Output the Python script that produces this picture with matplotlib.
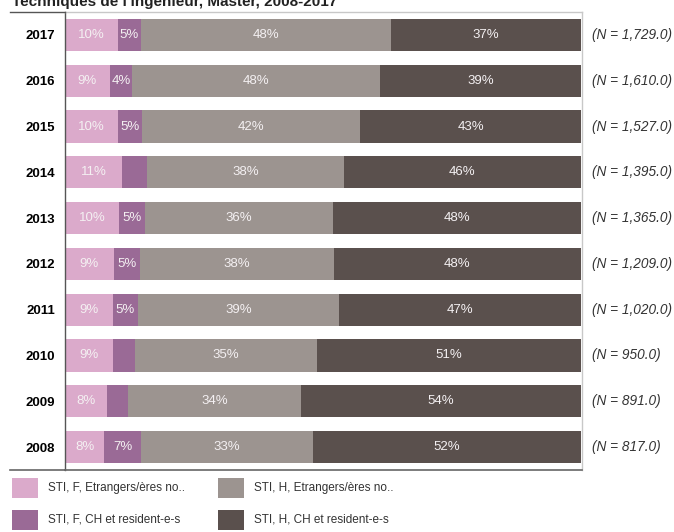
import matplotlib
matplotlib.use("Agg")
import matplotlib.pyplot as plt
from matplotlib.patches import Rectangle
from matplotlib.transforms import blended_transform_factory

plt.rcParams['font.family'] = ['Liberation Sans', 'DejaVu Sans']

# data (share in %)
years = [2017, 2016, 2015, 2014, 2013, 2012, 2011, 2010, 2009, 2008]
counts = [1729.0, 1610.0, 1527.0, 1395.0, 1365.0, 1209.0, 1020.0, 950.0, 891.0, 817.0]
f_foreign = [10.2, 8.7, 10.2, 11.1, 10.4, 9.4, 9.3, 9.3, 8.1, 7.6]
f_swiss = [4.6, 4.3, 4.8, 4.8, 5.2, 5.1, 4.8, 4.2, 4.1, 7.1]
h_foreign = [48.3, 48.0, 42.2, 38.1, 36.3, 37.6, 39.1, 35.3, 33.6, 33.3]
h_swiss = [36.9, 39.0, 42.8, 46.0, 48.1, 47.9, 46.8, 51.2, 54.2, 52.0]
series_names = ["STI, F, Etrangers/ères no..", "STI, F, CH et resident-e-s",
                "STI, H, Etrangers/ères no..", "STI, H, CH et resident-e-s"]
colors = ["#dbaacb", "#9a6a96", "#9c9490", "#5a504d"]
# segment labels that the chart leaves out (year, series index)
hidden = [(2014, 1), (2010, 1), (2009, 1)]
title = "Techniques de l'ingénieur, Master, 2008-2017"

series = [f_foreign, f_swiss, h_foreign, h_swiss]

fig = plt.figure(figsize=(6.74, 5.32), dpi=100)
ax = fig.add_axes([65 / 674, 1 - 470 / 532, 517 / 674, 458 / 532])

ypos = list(range(len(years)))[::-1]
left = [0.0] * len(years)
for k, vals in enumerate(series):
    w = [v / 100 for v in vals]
    ax.barh(ypos, w, left=left, height=0.7, color=colors[k], linewidth=0)
    for i, v in enumerate(vals):
        if (years[i], k) in hidden:
            continue
        ax.text(left[i] + w[i] / 2, ypos[i], f"{round(v)}%", ha='center', va='center',
                fontsize=9.5, color='#f4f0f2')
    left = [a + b for a, b in zip(left, w)]

ax.set_xlim(0, 1.002)
ax.set_ylim(-0.5, len(years) - 0.5)
ax.set_xticks([])
ax.set_yticks(ypos)
ax.set_yticklabels([str(y) for y in years], fontsize=9.5, fontweight='bold')
ax.tick_params(axis='y', length=0, pad=7)

for s in ['top', 'right']:
    ax.spines[s].set_color('#c8c8c8')
    ax.spines[s].set_linewidth(1.0)
ax.spines['left'].set_color('#555555')
ax.spines['bottom'].set_color('#666666')
ax.spines['left'].set_linewidth(1.0)
ax.spines['bottom'].set_linewidth(1.2)

# N labels on the right
tr = blended_transform_factory(ax.transAxes, ax.transData)
for i, n in enumerate(counts):
    ax.text(1.02, ypos[i], f"(N = {n:,.1f})", transform=tr, ha='left', va='center',
            fontsize=9.8, style='italic', color='#333333')

# header lines of the year column
fig.add_artist(plt.Line2D([10 / 674, 65 / 674], [1 - 12 / 532] * 2, color='#555555', lw=1.0))
fig.add_artist(plt.Line2D([10 / 674, 65 / 674], [1 - 470 / 532] * 2, color='#666666', lw=1.2))

fig.text(12 / 674, 1 - 6 / 532, title, fontsize=11, fontweight='bold', color='#222222',
         ha='left', va='baseline')

# legend
leg_x = [12, 218]
leg_y = [478, 510]
for k, name in enumerate(series_names):
    col = k // 2
    row = k % 2
    x0 = leg_x[col]
    y0 = leg_y[row]
    fig.add_artist(Rectangle((x0 / 674, 1 - (y0 + 20) / 532), 26 / 674, 20 / 532,
                             transform=fig.transFigure, color=colors[k], lw=0))
    fig.text((x0 + 36) / 674, 1 - (y0 + 10) / 532, name, fontsize=8.5, color='#333333',
             ha='left', va='center')

fig.savefig("out.png", dpi=100)
